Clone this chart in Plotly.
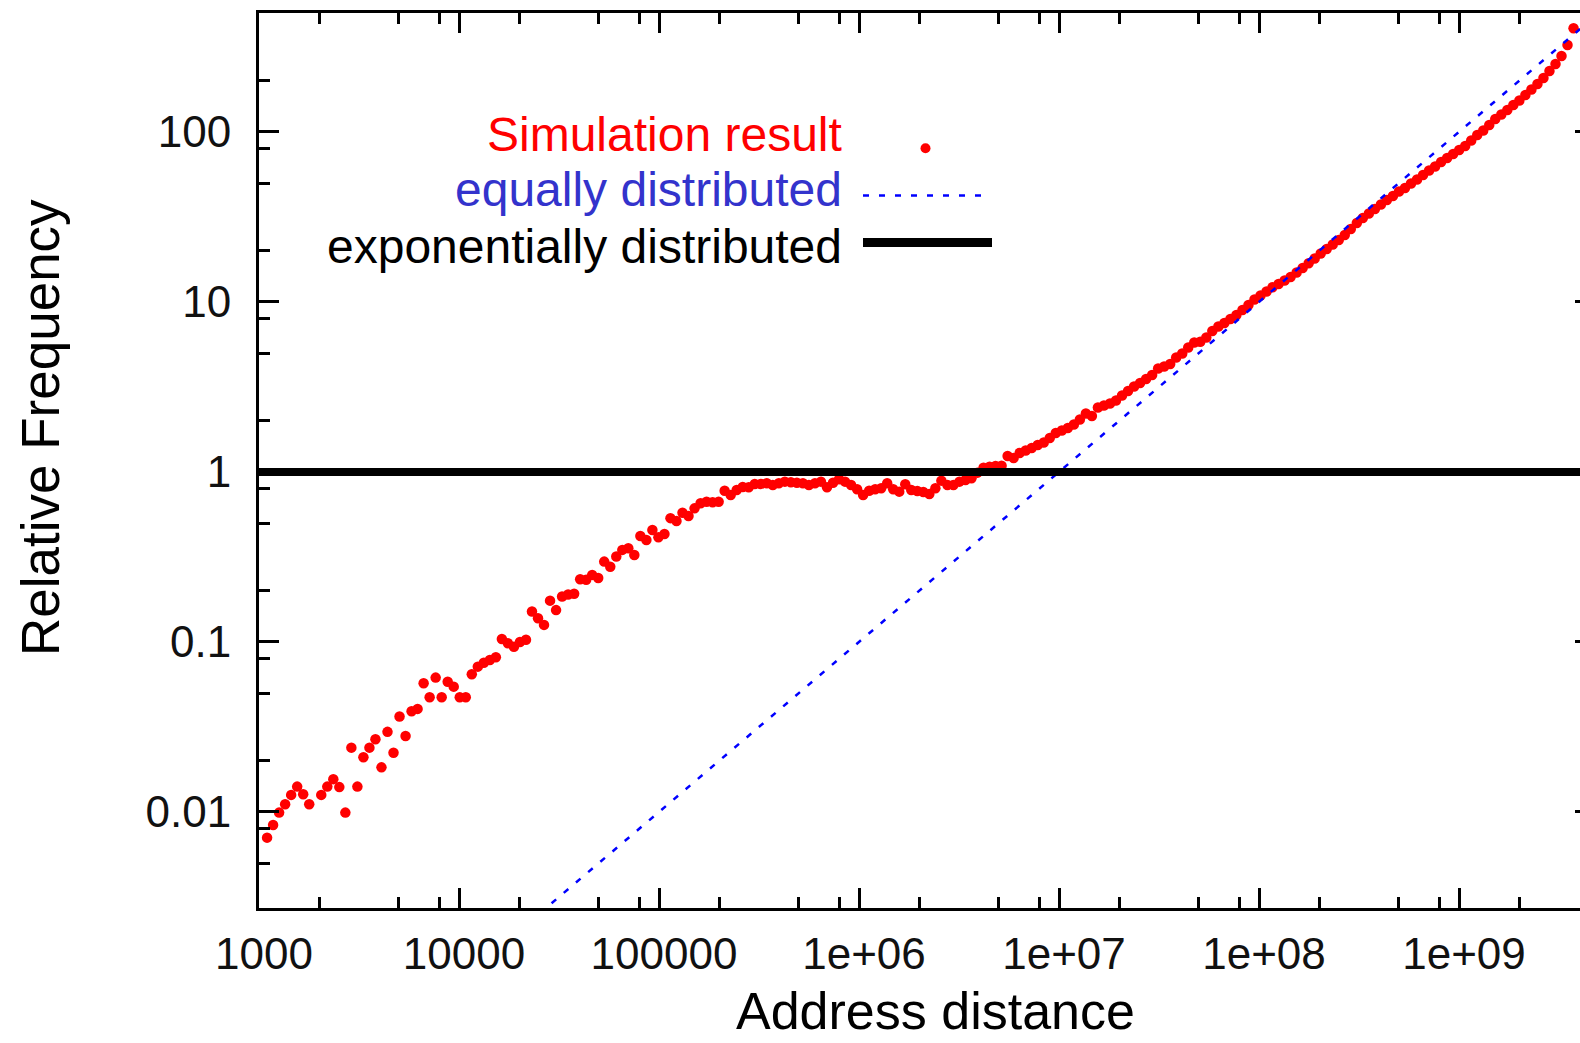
import plotly.graph_objects as go

# ---------------- data ----------------
# histogram bins: log2 of the address distance (bin centres)
bin_log2 = [
    10.1, 10.2, 10.3, 10.4, 10.5, 10.6, 10.7, 10.8, 10.9, 11.0,
    11.1, 11.2, 11.3, 11.4, 11.5, 11.6, 11.7, 11.8, 11.9, 12.0,
    12.1, 12.2, 12.3, 12.4, 12.5, 12.6, 12.7, 12.8, 12.9, 13.0,
    13.1, 13.2, 13.3, 13.4, 13.5, 13.6, 13.7, 13.8, 13.9, 14.0,
    14.1, 14.2, 14.3, 14.4, 14.5, 14.6, 14.7, 14.8, 14.9, 15.0,
    15.1, 15.2, 15.3, 15.4, 15.5, 15.6, 15.7, 15.8, 15.9, 16.0,
    16.1, 16.2, 16.3, 16.4, 16.5, 16.6, 16.7, 16.8, 16.9, 17.0,
    17.1, 17.2, 17.3, 17.4, 17.5, 17.6, 17.7, 17.8, 17.9, 18.0,
    18.1, 18.2, 18.3, 18.4, 18.5, 18.6, 18.7, 18.8, 18.9, 19.0,
    19.1, 19.2, 19.3, 19.4, 19.5, 19.6, 19.7, 19.8, 19.9, 20.0,
    20.1, 20.2, 20.3, 20.4, 20.5, 20.6, 20.7, 20.8, 20.9, 21.0,
    21.1, 21.2, 21.3, 21.4, 21.5, 21.6, 21.7, 21.8, 21.9, 22.0,
    22.1, 22.2, 22.3, 22.4, 22.5, 22.6, 22.7, 22.8, 22.9, 23.0,
    23.1, 23.2, 23.3, 23.4, 23.5, 23.6, 23.7, 23.8, 23.9, 24.0,
    24.1, 24.2, 24.3, 24.4, 24.5, 24.6, 24.7, 24.8, 24.9, 25.0,
    25.1, 25.2, 25.3, 25.4, 25.5, 25.6, 25.7, 25.8, 25.9, 26.0,
    26.1, 26.2, 26.3, 26.4, 26.5, 26.6, 26.7, 26.8, 26.9, 27.0,
    27.1, 27.2, 27.3, 27.4, 27.5, 27.6, 27.7, 27.8, 27.9, 28.0,
    28.1, 28.2, 28.3, 28.4, 28.5, 28.6, 28.7, 28.8, 28.9, 29.0,
    29.1, 29.2, 29.3, 29.4, 29.5, 29.6, 29.7, 29.8, 29.9, 30.0,
    30.1, 30.2, 30.3, 30.4, 30.5, 30.6, 30.7, 30.8, 30.9, 31.0,
    31.1, 31.2, 31.3, 31.4, 31.5, 31.6, 31.7, 31.8,
]

# simulation result: relative frequency per bin (None = empty bin)
sim_freq = [
    0.00706, 0.00839, 0.00991, 0.0111, 0.0126, 0.0141, 0.0127, 0.0111, None, 0.0126,
    0.0141, 0.0156, 0.0140, 0.00991, 0.0239, 0.0141, 0.0210, 0.0239, 0.0268, 0.0183,
    0.0296, 0.0223, 0.0364, 0.0280, 0.0391, 0.0404, 0.0572, 0.0473, 0.0617, 0.0473,
    0.0583, 0.0546, 0.0473, 0.0473, 0.0646, 0.0716, 0.0755, 0.0783, 0.0813, 0.104,
    0.0983, 0.0938, 0.100, 0.103, 0.151, 0.138, 0.126, 0.175, 0.154, 0.185,
    0.190, 0.192, 0.234, 0.232, 0.248, 0.238, 0.297, 0.277, 0.318, 0.348,
    0.356, 0.325, 0.420, 0.398, 0.456, 0.413, 0.432, 0.535, 0.515, 0.576,
    0.551, 0.611, 0.655, 0.668, 0.664, 0.668, 0.776, 0.732, 0.783, 0.816,
    0.813, 0.850, 0.850, 0.858, 0.839, 0.858, 0.877, 0.870, 0.865, 0.858,
    0.839, 0.858, 0.877, 0.813, 0.865, 0.906, 0.877, 0.839, 0.791, 0.732,
    0.776, 0.791, 0.802, 0.858, 0.791, 0.766, 0.846, 0.784, 0.773, 0.763,
    0.742, 0.802, 0.889, 0.839, 0.839, 0.877, 0.897, 0.918, 0.991, 1.060,
    1.075, 1.085, 1.089, 1.242, 1.209, 1.293, 1.338, 1.384, 1.441, 1.491,
    1.585, 1.696, 1.754, 1.815, 1.903, 2.036, 2.209, 2.135, 2.395, 2.462,
    2.529, 2.634, 2.818, 2.995, 3.184, 3.339, 3.525, 3.721, 4.063, 4.175,
    4.319, 4.716, 4.980, 5.399, 5.778, 5.841, 6.182, 6.751, 7.176, 7.524,
    7.943, 8.384, 8.973, 9.60, 10.34, 10.92, 11.53, 12.20, 12.76, 13.38,
    14.03, 14.91, 15.85, 16.89, 18.03, 19.29, 20.50, 21.79, 23.16, 24.79,
    26.88, 29.16, 31.20, 33.16, 35.25, 37.46, 39.81, 42.03, 44.67, 46.84,
    49.79, 52.55, 55.85, 59.36, 62.68, 66.61, 70.33, 74.25, 78.39, 82.74,
    89.13, 96.02, 102.0, 110.0, 119.2, 126.7, 134.7, 144.1, 153.2, 165.1,
    177.8, 191.6, 207.8, 228.5, 251.2, 280.0, 324.9, 407.4,
]

# reference curves
eq_x = [1000, 4294967296]
eq_y = [1.0e-4, 430.0]
exp_x = [1000, 4294967296]
exp_y = [1.0, 1.0]

# axes ticks
x_major = [1e3, 1e4, 1e5, 1e6, 1e7, 1e8, 1e9]
x_major_text = ["1000", "10000", "100000", "1e+06", "1e+07", "1e+08", "1e+09"]
x_minor = [2e3, 5e3, 8e3, 2e4, 5e4, 8e4, 2e5, 5e5, 8e5, 2e6, 5e6, 8e6,
           2e7, 5e7, 8e7, 2e8, 5e8, 8e8, 2e9]
y_major = [0.01, 0.1, 1, 10, 100]
y_major_text = ["0.01", "0.1", "1", "10", "100"]
y_minor = [0.005, 0.008, 0.02, 0.05, 0.08, 0.2, 0.5, 0.8, 2, 5, 8, 20, 50, 80, 200]

legend_labels = ["Simulation result", "equally distributed", "exponentially distributed"]

# ---------------- layout geometry ----------------
W, H = 1580, 1043
ML, MR, MT, MB = 259, 0, 13, 135
PW, PH = W - ML - MR, H - MT - MB
X_RANGE = [3.0, 9.605]
Y_RANGE = [-2.565, 2.700]
FONT = "Liberation Sans, Arial, Helvetica, sans-serif"


def px_x(p):
    return (p - ML) / PW


def px_y(p):
    return (H - MB - p) / PH


sim_x = [2 ** e for e in bin_log2]

fig = go.Figure()
fig.add_trace(go.Scatter(
    x=sim_x, y=sim_freq, mode="markers", name=legend_labels[0],
    marker=dict(color="#ff0000", size=10.5, line=dict(width=0)),
))
fig.add_trace(go.Scatter(
    x=eq_x, y=eq_y, mode="lines", name=legend_labels[1],
    line=dict(color="#0000ff", width=2.5, dash="6px,10px"),
))
fig.add_trace(go.Scatter(
    x=exp_x, y=exp_y, mode="lines", name=legend_labels[2], yaxis="y2",
    line=dict(color="#000000", width=8),
))

tick_font = dict(family=FONT, size=44, color="#111111")
common_minor = dict(ticks="inside", ticklen=11, tickwidth=2.5, tickcolor="#000000",
                    showgrid=False)

fig.update_layout(
    width=W, height=H, autosize=False,
    margin=dict(l=ML, r=MR, t=MT, b=MB, pad=0),
    paper_bgcolor="#ffffff", plot_bgcolor="#ffffff",
    showlegend=False, hovermode=False,
    font=dict(family=FONT, color="#000000"),
    xaxis=dict(
        type="log", range=X_RANGE, showgrid=False, zeroline=False,
        showline=True, linewidth=3, linecolor="#000000", mirror="ticks",
        ticks="inside", ticklen=20, tickwidth=2.5, tickcolor="#000000",
        tickmode="array", tickvals=x_major, ticktext=x_major_text,
        tickfont=tick_font, ticklabelstandoff=5, ticklabelshift=5,
        minor=dict(tickmode="array", tickvals=x_minor, **common_minor),
    ),
    yaxis=dict(
        type="log", range=Y_RANGE, showgrid=False, zeroline=False,
        showline=True, linewidth=3, linecolor="#000000", mirror=False,
        ticks="inside", ticklen=20, tickwidth=2.5, tickcolor="#000000",
        tickmode="array", tickvals=y_major, ticktext=y_major_text,
        tickfont=tick_font, ticklabelstandoff=16,
        minor=dict(tickmode="array", tickvals=y_minor, **common_minor),
    ),
    # right border lies just beyond the picture: only the tips of its major ticks show
    yaxis2=dict(
        type="log", range=Y_RANGE, overlaying="y", side="right",
        showgrid=False, zeroline=False, showline=False,
        ticks="inside", ticklen=5, tickwidth=2.5, tickcolor="#000000",
        tickmode="array", tickvals=y_major, showticklabels=False,
    ),
)

# axis titles
fig.add_annotation(
    text="Address distance", xref="paper", yref="paper",
    x=px_x(935), y=px_y(1011), xanchor="center", yanchor="middle",
    showarrow=False, font=dict(family=FONT, size=52, color="#000000"),
)
fig.add_annotation(
    text="Relative Frequency", xref="paper", yref="paper",
    x=px_x(40), y=px_y(428), xanchor="center", yanchor="middle", textangle=-90,
    showarrow=False, font=dict(family=FONT, size=53, color="#000000"),
)

# key (gnuplot style: text right-aligned, sample to the right)
key_colors = ["#ff0000", "#3333cc", "#000000"]
key_text_y = [134, 190, 247]
for lab, col, ty in zip(legend_labels, key_colors, key_text_y):
    fig.add_annotation(
        text=lab, xref="paper", yref="paper", x=px_x(844), y=px_y(ty),
        xanchor="right", yanchor="middle", showarrow=False,
        font=dict(family=FONT, size=48, color=col),
    )

fig.add_shape(type="circle", xref="paper", yref="paper",
              x0=px_x(920.5), x1=px_x(930.5), y0=px_y(153.3), y1=px_y(143.3),
              fillcolor="#ff0000", line=dict(width=0))
fig.add_shape(type="line", xref="paper", yref="paper",
              x0=px_x(863), x1=px_x(985), y0=px_y(195.5), y1=px_y(195.5),
              line=dict(color="#0000ff", width=2.5, dash="6px,10px"))
fig.add_shape(type="line", xref="paper", yref="paper",
              x0=px_x(863), x1=px_x(992), y0=px_y(242.5), y1=px_y(242.5),
              line=dict(color="#000000", width=9))

fig.write_html(
    "out.html",
    config={"displayModeBar": False},
    post_script="document.body.style.margin='0';document.body.style.overflow='hidden';",
)
